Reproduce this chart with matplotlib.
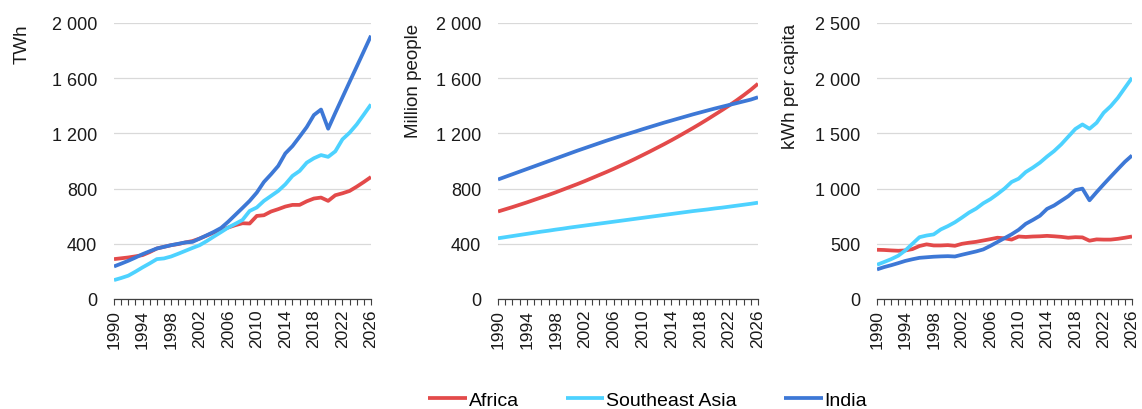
import matplotlib
matplotlib.use("Agg")
import matplotlib.pyplot as plt
from matplotlib.ticker import FuncFormatter, MultipleLocator

years = list(range(1990, 2027))

# Electricity demand (TWh)
africa_twh = [289, 295, 301, 309, 318, 340, 366, 378, 390, 398, 410, 420, 438, 460, 482, 500, 518, 535, 549, 547, 602, 607, 634, 651, 670, 682, 682, 708, 728, 735, 711, 752, 766, 783, 814, 848, 884]
sea_twh = [137, 152, 169, 198, 229, 258, 289, 294, 308, 328, 349, 370, 390, 420, 453, 485, 518, 545, 573, 638, 663, 711, 747, 783, 831, 892, 928, 988, 1020, 1043, 1030, 1070, 1157, 1205, 1265, 1337, 1410]
india_twh = [236, 256, 277, 300, 325, 346, 366, 378, 390, 400, 410, 414, 438, 462, 487, 515, 560, 610, 660, 711, 771, 848, 904, 964, 1055, 1108, 1176, 1246, 1333, 1373, 1234, 1349, 1461, 1573, 1684, 1796, 1908]

# Population (million people)
africa_pop = [634, 650, 666, 683, 700, 718, 736, 754, 773, 793, 813, 833, 854, 876, 898, 920, 943, 967, 991, 1016, 1042, 1068, 1095, 1122, 1150, 1179, 1209, 1239, 1270, 1302, 1335, 1368, 1402, 1438, 1476, 1516, 1560]
sea_pop = [440, 448, 456, 464, 472, 480, 488, 495, 503, 510, 518, 525, 532, 539, 546, 553, 560, 567, 574, 581, 588, 595, 602, 609, 616, 623, 630, 637, 643, 649, 656, 662, 669, 676, 683, 690, 698]
india_pop = [866, 885, 904, 923, 942, 961, 980, 999, 1018, 1037, 1056, 1075, 1093, 1111, 1129, 1147, 1164, 1181, 1197, 1213, 1230, 1246, 1262, 1278, 1293, 1308, 1323, 1338, 1352, 1366, 1380, 1393, 1406, 1419, 1432, 1445, 1462]

# Per capita demand (kWh per capita)
africa_pc = [446, 444, 440, 437, 440, 452, 480, 495, 485, 485, 488, 482, 500, 510, 518, 530, 542, 555, 550, 538, 566, 562, 566, 568, 572, 568, 563, 555, 560, 558, 528, 540, 538, 538, 545, 555, 566]
sea_pc = [310, 335, 361, 392, 440, 500, 560, 575, 585, 630, 660, 695, 738, 783, 819, 867, 904, 950, 1000, 1060, 1090, 1150, 1190, 1235, 1290, 1340, 1400, 1470, 1540, 1581, 1542, 1596, 1687, 1747, 1822, 1913, 2003]
india_pc = [268, 289, 306, 325, 345, 360, 373, 378, 383, 386, 388, 385, 401, 416, 431, 449, 481, 516, 551, 586, 627, 681, 716, 754, 816, 847, 889, 931, 986, 1000, 894, 968, 1039, 1108, 1176, 1243, 1300]

series_names = ["Africa", "Southeast Asia", "India"]
colors = ["#E34A4A", "#4DD2FF", "#3D78D6"]
ylabels = ["TWh", "Million people", "kWh per capita"]
ylims = [(0, 2000, 400), (0, 2000, 400), (0, 2500, 500)]
xtick_labels = list(range(1990, 2027, 4))

panels = [
    (africa_twh, sea_twh, india_twh),
    (africa_pop, sea_pop, india_pop),
    (africa_pc, sea_pc, india_pc),
]

plt.rcParams['font.family'] = ['Liberation Sans', 'DejaVu Sans']
fig = plt.figure(figsize=(11.42, 4.10), dpi=100)

lefts_px = [114, 498, 877]
widths_px = [257, 260, 255]
label_right_px = [31, 422, 799]
bottom = 1 - 300 / 410
height = (300 - 24) / 410

fmt = FuncFormatter(lambda v, p: f"{int(v):,}".replace(",", " "))

lines_for_legend = []
for i, data in enumerate(panels):
    ax = fig.add_axes([lefts_px[i] / 1142, bottom, widths_px[i] / 1142, height])
    for vals, c, name in zip(data, colors, series_names):
        ln, = ax.plot(years, vals, color=c, lw=2.7, label=name, solid_capstyle='butt')
        if i == 0:
            lines_for_legend.append(ln)
    lo, hi, step = ylims[i]
    ax.set_ylim(lo, hi)
    ax.set_xlim(1990, 2026)
    ax.yaxis.set_major_locator(MultipleLocator(step))
    ax.yaxis.set_major_formatter(fmt)
    ax.grid(axis='y', color='#D9D9D9', lw=0.9)
    ax.set_axisbelow(True)
    for s in ['top', 'right', 'left']:
        ax.spines[s].set_visible(False)
    ax.spines['bottom'].set_color('#404040')
    ax.spines['bottom'].set_linewidth(0.9)
    ax.set_xticks(xtick_labels)
    ax.set_xticklabels([str(y) for y in xtick_labels], rotation=90, fontsize=12.5, color='#1a1a1a')
    ax.set_xticks(years, minor=True)
    ax.tick_params(axis='x', which='both', direction='out', length=4, color='#404040', width=0.8, pad=3)
    ax.tick_params(axis='y', length=0, labelsize=13, labelcolor='#1a1a1a', pad=12)
    ax.set_ylabel(ylabels[i], fontsize=13.5, color='#1a1a1a', loc='top')
    ax.yaxis.set_label_coords((label_right_px[i] - lefts_px[i]) / widths_px[i], 1.0)

fig.legend(handles=lines_for_legend, labels=series_names, loc='center', bbox_to_anchor=(0.567, 1 - 401 / 410),
           ncol=3, frameon=False, fontsize=14, handlelength=2.0, handletextpad=0.1, columnspacing=2.4)

fig.savefig("out.png", dpi=100)
